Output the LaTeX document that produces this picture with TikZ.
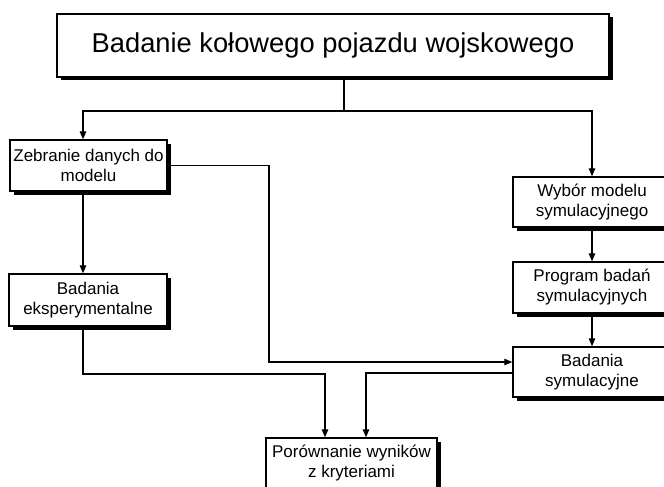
\documentclass[tikz,border=0pt]{standalone}
\usepackage{fontspec}
\setmainfont{Liberation Sans}
\usetikzlibrary{arrows.meta,shadows}
\begin{document}
\begin{tikzpicture}[x=1pt,y=-1pt,
  box/.style={draw=black, line width=1.4pt, fill=white, align=center, inner sep=1pt,
    font=\fontsize{17}{20}\selectfont,
    general shadow={fill=black, shadow xshift=3.5pt, shadow yshift=-3.5pt}},
  conn/.style={line width=1.2pt},
  arr/.style={conn, -{Triangle[length=8pt,width=6.5pt]}}]
\useasboundingbox (0,0) rectangle (664,487);
\clip (0,0) rectangle (664,487);
\node[box, minimum width=552pt, minimum height=63pt, font=\fontsize{27.3}{32}\selectfont] (title) at (333,45.5) {Badanie kołowego pojazdu wojskowego};
\node[box, minimum width=157pt, minimum height=51pt] (zeb) at (88.5,165.5) {Zebranie danych do\\modelu};
\node[box, minimum width=158pt, minimum height=52pt] (eksp) at (88,300) {Badania\\eksperymentalne};
\node[box, minimum width=158pt, minimum height=50pt] (wyb) at (592,202) {Wybór modelu\\symulacyjnego};
\node[box, minimum width=158pt, minimum height=51pt] (prog) at (592,287.5) {Program badań\\symulacyjnych};
\node[box, minimum width=158pt, minimum height=50pt] (sym) at (592,372) {Badania\\symulacyjne};
\node[box, minimum width=171pt, minimum height=50pt] (por) at (351.5,463) {Porównanie wyników\\z kryteriami};
\coordinate (j) at (344,111);
\coordinate (c1) at (269,362);
\coordinate (c3) at (325,374);
\coordinate (c4) at (366,373);
\draw[conn] (title.south -| j) -- (j);
\draw[arr] (j) -| ([xshift=-5.5pt]zeb.north);
\draw[arr] (j) -| (wyb.north);
\draw[arr] ([xshift=-5.5pt]zeb.south) -- ([xshift=-5pt]eksp.north);
\draw[arr] (zeb.east) -| (c1) -- (c1 -| sym.west);
\draw[arr] (wyb.south) -- (prog.north);
\draw[arr] (prog.south) -- (sym.north);
\draw[arr] ([xshift=-5pt]eksp.south) |- (c3) -- (c3 |- por.north);
\draw[arr] (c4 -| sym.west) -- (c4) -- (c4 |- por.north);
\end{tikzpicture}
\end{document}
